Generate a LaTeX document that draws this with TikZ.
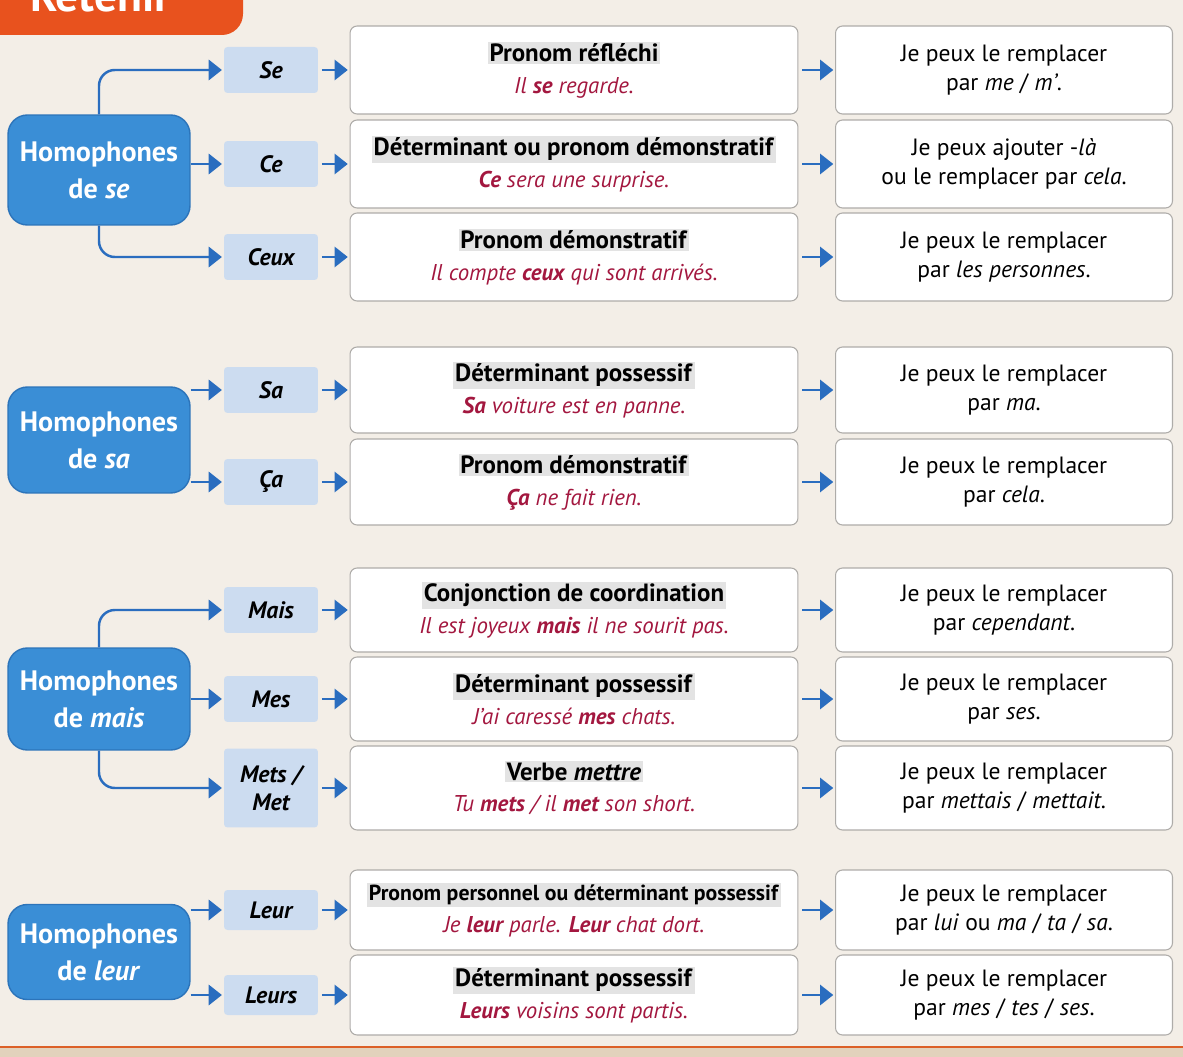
\documentclass[tikz,border=0pt]{standalone}
\usepackage{fontspec}
\setmainfont{PT Sans}
\usepackage{xcolor}
\usepackage{tikz}
\usetikzlibrary{arrows.meta}
\definecolor{paper}{HTML}{F3EEE7}
\definecolor{pagebot}{HTML}{E2D2BC}
\definecolor{orangetab}{HTML}{E8521E}
\definecolor{mainblue}{HTML}{3A8ED6}
\definecolor{mainedge}{HTML}{2C74BA}
\definecolor{wordblue}{HTML}{CCDCF0}
\definecolor{linkblue}{HTML}{2A6DBF}
\definecolor{boxgray}{HTML}{AEACA9}
\definecolor{exred}{HTML}{A3173F}
\definecolor{hl}{HTML}{E3E3E3}
\newcommand{\defhead}[2][14.2]{{\fontsize{#1}{18}\selectfont\setlength{\fboxsep}{1pt}\colorbox{hl}{\textbf{#2}}}}
\newcommand{\defex}[1]{{\color{exred}\itshape #1}}
\tikzset{
  homo/.style={fill=mainblue, draw=mainedge, line width=0.8pt, rounded corners=11pt, text=white,
    align=center, minimum width=3.64cm, font=\fontsize{16}{21}\selectfont\bfseries},
  word/.style={fill=wordblue, rounded corners=2pt, minimum width=1.88cm, minimum height=0.92cm,
    align=center, inner sep=2pt, font=\fontsize{13.5}{16}\selectfont\bfseries\itshape},
  defbox/.style={draw=boxgray, fill=white, line width=0.6pt, rounded corners=4pt, align=center,
    minimum width=8.96cm, minimum height=1.72cm, inner sep=2pt, font=\fontsize{13}{18}\selectfont},
  ansbox/.style={draw=boxgray, fill=white, line width=0.6pt, rounded corners=4pt, align=center,
    minimum width=6.74cm, minimum height=1.72cm, inner sep=2pt, font=\fontsize{13.4}{16.5}\selectfont},
  link/.style={draw=linkblue, line width=1.4pt, rounded corners=9pt,
    -{Triangle[length=7.5pt,width=11.5pt]}, shorten >=1pt},
  follow/.style={link, shorten <=2pt},
  retenir/.style={text=white, inner sep=0pt, font=\fontsize{26}{26}\selectfont\bfseries},
}
\begin{document}
\begin{tikzpicture}[x=0.02cm,y=-0.02cm]
  \useasboundingbox (0,0) rectangle (1183,1057);
  \clip (0,0) rectangle (1183,1057);
  \fill[paper] (0,0) rectangle (1183,1057);
  % bandeau Retenir
  \fill[orangetab, rounded corners=12pt] (-20,-40) rectangle (243,35);
  \node[retenir, anchor=base west] (ret) at (30,12) {Retenir};
  % bas de page
  \fill[pagebot] (0,1047) rectangle (1183,1057);
  \draw[orangetab!70!brown, line width=1.2pt] (0,1047) -- (1183,1047);

  % --- se / ce / ceux
  \node[homo, minimum height=2.2cm] (hse) at (99,170) {Homophones\\de \textit{se}};
  \node[word] (se) at (271,70) {Se};
  \node[word] (ce) at (271,164) {Ce};
  \node[word] (ceux) at (271,257) {Ceux};
  \node[defbox, minimum height=1.76cm] (dse) at (574,70) {\defhead{Pronom réfléchi}\\\defex{Il \textbf{se} regarde.}};
  \node[defbox, minimum height=1.76cm] (dce) at (574,164) {\defhead{Déterminant ou pronom démonstratif}\\\defex{\textbf{Ce} sera une surprise.}};
  \node[defbox, minimum height=1.76cm] (dceux) at (574,257) {\defhead{Pronom démonstratif}\\\defex{Il compte \textbf{ceux} qui sont arrivés.}};
  \node[ansbox, minimum height=1.76cm] (rse) at (1004,70) {Je peux le remplacer\\par \textit{me} / \textit{m’}.};
  \node[ansbox, minimum height=1.76cm] (rce) at (1004,164) {Je peux ajouter -\textit{là}\\ou le remplacer par \textit{cela}.};
  \node[ansbox, minimum height=1.76cm] (rceux) at (1004,257) {Je peux le remplacer\\par \textit{les personnes}.};
  \draw[link] (hse.north) |- (se.west);
  \draw[link] (hse.east |- ce) -- (ce.west);
  \draw[link] (hse.south) |- (ceux.west);
  \draw[follow] (se) -- (dse);
  \draw[follow] (ce) -- (dce);
  \draw[follow] (ceux) -- (dceux);
  \draw[follow] (dse) -- (rse);
  \draw[follow] (dce) -- (rce);
  \draw[follow] (dceux) -- (rceux);

  % --- sa / ça
  \node[homo, minimum height=2.12cm] (hsa) at (99,440) {Homophones\\de \textit{sa}};
  \node[word] (sa) at (271,390) {Sa};
  \node[word] (ca) at (271,482) {Ça};
  \node[defbox] (dsa) at (574,390) {\defhead{Déterminant possessif}\\\defex{\textbf{Sa} voiture est en panne.}};
  \node[defbox] (dca) at (574,482) {\defhead{Pronom démonstratif}\\\defex{\textbf{Ça} ne fait rien.}};
  \node[ansbox] (rsa) at (1004,390) {Je peux le remplacer\\par \textit{ma}.};
  \node[ansbox] (rca) at (1004,482) {Je peux le remplacer\\par \textit{cela}.};
  \draw[link] (hsa.east |- sa) -- (sa.west);
  \draw[link] (hsa.east |- ca) -- (ca.west);
  \draw[follow] (sa) -- (dsa);
  \draw[follow] (ca) -- (dca);
  \draw[follow] (dsa) -- (rsa);
  \draw[follow] (dca) -- (rca);

  % --- mais / mes / mets
  \node[homo, minimum height=2.04cm] (hmais) at (99,699) {Homophones\\de \textit{mais}};
  \node[word] (mais) at (271,610) {Mais};
  \node[word] (mes) at (271,699) {Mes};
  \node[word, minimum height=1.58cm] (mets) at (271,788) {Mets /\\Met};
  \node[defbox, minimum height=1.68cm] (dmais) at (574,610) {\defhead{Conjonction de coordination}\\\defex{Il est joyeux \textbf{mais} il ne sourit pas.}};
  \node[defbox, minimum height=1.68cm] (dmes) at (574,699) {\defhead{Déterminant possessif}\\\defex{J’ai caressé \textbf{mes} chats.}};
  \node[defbox, minimum height=1.68cm] (dmets) at (574,788) {\defhead{Verbe \textit{mettre}}\\\defex{Tu \textbf{mets} / il \textbf{met} son short.}};
  \node[ansbox, minimum height=1.68cm] (rmais) at (1004,610) {Je peux le remplacer\\par \textit{cependant}.};
  \node[ansbox, minimum height=1.68cm] (rmes) at (1004,699) {Je peux le remplacer\\par \textit{ses}.};
  \node[ansbox, minimum height=1.68cm] (rmets) at (1004,788) {Je peux le remplacer\\par \textit{mettais} / \textit{mettait}.};
  \draw[link] (hmais.north) |- (mais.west);
  \draw[link] (hmais.east |- mes) -- (mes.west);
  \draw[link] (hmais.south) |- (mets.west);
  \draw[follow] (mais) -- (dmais);
  \draw[follow] (mes) -- (dmes);
  \draw[follow] (mets) -- (dmets);
  \draw[follow] (dmais) -- (rmais);
  \draw[follow] (dmes) -- (rmes);
  \draw[follow] (dmets) -- (rmets);

  % --- leur / leurs
  \node[homo, minimum height=1.9cm] (hleur) at (99,952) {Homophones\\de \textit{leur}};
  \node[word, minimum height=0.8cm] (leur) at (271,910) {Leur};
  \node[word, minimum height=0.8cm] (leurs) at (271,995) {Leurs};
  \node[defbox, minimum height=1.6cm] (dleur) at (574,910) {\defhead[12.4]{Pronom personnel ou déterminant possessif}\\\defex{Je \textbf{leur} parle. \textbf{Leur} chat dort.}};
  \node[defbox, minimum height=1.6cm] (dleurs) at (574,995) {\defhead{Déterminant possessif}\\\defex{\textbf{Leurs} voisins sont partis.}};
  \node[ansbox, minimum height=1.6cm] (rleur) at (1004,910) {Je peux le remplacer\\par \textit{lui} ou \textit{ma} / \textit{ta} / \textit{sa}.};
  \node[ansbox, minimum height=1.6cm] (rleurs) at (1004,995) {Je peux le remplacer\\par \textit{mes} / \textit{tes} / \textit{ses}.};
  \draw[link] (hleur.east |- leur) -- (leur.west);
  \draw[link] (hleur.east |- leurs) -- (leurs.west);
  \draw[follow] (leur) -- (dleur);
  \draw[follow] (leurs) -- (dleurs);
  \draw[follow] (dleur) -- (rleur);
  \draw[follow] (dleurs) -- (rleurs);
\end{tikzpicture}
\end{document}
